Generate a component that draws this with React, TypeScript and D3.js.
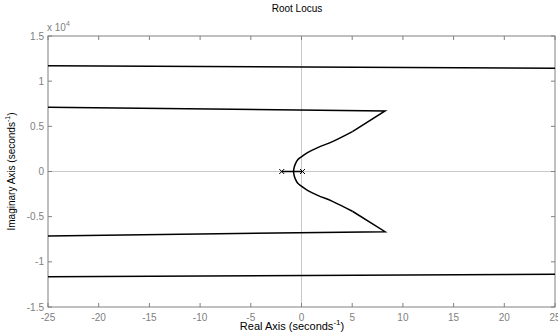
import React from "react";
import * as d3 from "d3";

const xTicks = [-25, -20, -15, -10, -5, 0, 5, 10, 15, 20, 25];
const yTicks = [-1.5, -1, -0.5, 0, 0.5, 1, 1.5];
const yTickLabels = ["-1.5", "-1", "-0.5", "0", "0.5", "1", "1.5"];

// root locus branches (real, imag in units of 1e4)
const outerUpper: [number, number][] = [[-25, 1.171], [25, 1.143]];
const outerLower: [number, number][] = [[-25, -1.165], [25, -1.138]];
const innerUpper: [number, number][] = [
  [-25, 0.711], [8.24, 0.671], [5.02, 0.442], [3.05, 0.331], [1.6, 0.265],
  [0.59, 0.209], [-0.05, 0.16], [-0.39, 0.128], [-0.6, 0.085], [-0.72, 0.047], [-0.79, 0],
];
const innerLower: [number, number][] = [
  [-25, -0.714], [8.24, -0.666], [5.02, -0.44], [3.05, -0.33], [1.6, -0.264],
  [0.59, -0.208], [-0.05, -0.16], [-0.39, -0.128], [-0.6, -0.085], [-0.72, -0.047], [-0.79, 0],
];
const realSegment: [number, number][] = [[-1.95, 0], [0.1, 0]];
const poles = [-1.95, 0.1];

export default function App() {
  const W = 558, H = 336;
  const x = d3.scaleLinear().domain([-25, 25]).range([48, 555]);
  const y = d3.scaleLinear().domain([-1.5, 1.5]).range([307, 36]);
  const line = d3.line<[number, number]>().x(d => x(d[0])).y(d => y(d[1]));
  const curve = d3.line<[number, number]>().x(d => x(d[0])).y(d => y(d[1])).curve(d3.curveCatmullRom);
  const axisColor = "#808080";
  const font = "Liberation Sans, Arial, sans-serif";
  const tl = 4;
  return (
    <svg width={W} height={H} style={{ position: "absolute", left: 0, top: 0, background: "#fff" }} fontFamily={font}>
      <rect x={0} y={0} width={W} height={H} fill="#fff" />
      <defs>
        <clipPath id="clip">
          <rect x={x(-25)} y={y(1.5)} width={x(25) - x(-25)} height={y(-1.5) - y(1.5)} />
        </clipPath>
      </defs>
      {/* zero grid lines */}
      <line x1={x(0)} x2={x(0)} y1={y(1.5)} y2={y(-1.5)} stroke="#c8c8c8" strokeWidth={1} />
      <line x1={x(-25)} x2={x(25)} y1={y(0)} y2={y(0)} stroke="#c8c8c8" strokeWidth={1} />
      {/* box */}
      <rect x={x(-25)} y={y(1.5)} width={x(25) - x(-25)} height={y(-1.5) - y(1.5)} fill="none" stroke={axisColor} strokeWidth={1} />
      {/* ticks */}
      {xTicks.map(t => (
        <g key={"xt" + t}>
          <line x1={x(t)} x2={x(t)} y1={y(-1.5)} y2={y(-1.5) - tl} stroke={axisColor} />
          <line x1={x(t)} x2={x(t)} y1={y(1.5)} y2={y(1.5) + tl} stroke={axisColor} />
          <text x={x(t)} y={321} textAnchor="middle" fontSize={10} fill={axisColor}>{t}</text>
        </g>
      ))}
      {yTicks.map((t, i) => (
        <g key={"yt" + t}>
          <line x1={x(-25)} x2={x(-25) + tl} y1={y(t)} y2={y(t)} stroke={axisColor} />
          <line x1={x(25)} x2={x(25) - tl} y1={y(t)} y2={y(t)} stroke={axisColor} />
          <text x={44} y={y(t) + 3.5} textAnchor="end" fontSize={10} fill={axisColor}>{yTickLabels[i]}</text>
        </g>
      ))}
      <text x={47} y={31} fontSize={10} fill={axisColor}>x 10<tspan dy={-5} fontSize={7}>4</tspan></text>
      {/* locus */}
      <g clipPath="url(#clip)" fill="none" stroke="#000" strokeWidth={1.5}>
        <path d={line(outerUpper) || ""} />
        <path d={line(outerLower) || ""} />
        <path d={line(innerUpper.slice(0, 3)) || ""} />
        <path d={line(innerLower.slice(0, 3)) || ""} />
        <path d={curve(innerUpper.slice(2)) || ""} />
        <path d={curve(innerLower.slice(2)) || ""} />
        <path d={line(realSegment) || ""} />
      </g>
      {poles.map(p => (
        <g key={"p" + p} stroke="#000" strokeWidth={1}>
          <line x1={x(p) - 2.5} x2={x(p) + 2.5} y1={y(0) - 2.5} y2={y(0) + 2.5} />
          <line x1={x(p) - 2.5} x2={x(p) + 2.5} y1={y(0) + 2.5} y2={y(0) - 2.5} />
        </g>
      ))}
      {/* labels */}
      <text x={297} y={12} textAnchor="middle" fontSize={10} fill="#000">Root Locus</text>
      <text x={292} y={330} textAnchor="middle" fontSize={11} fill="#000">
        Real Axis (seconds<tspan dy={-5} fontSize={8}>-1</tspan><tspan dy={5}>)</tspan>
      </text>
      <text transform={`translate(15, ${y(0)}) rotate(-90)`} textAnchor="middle" fontSize={10} fill="#000">
        Imaginary Axis (seconds<tspan dy={-5} fontSize={7}>-1</tspan><tspan dy={5}>)</tspan>
      </text>
    </svg>
  );
}
